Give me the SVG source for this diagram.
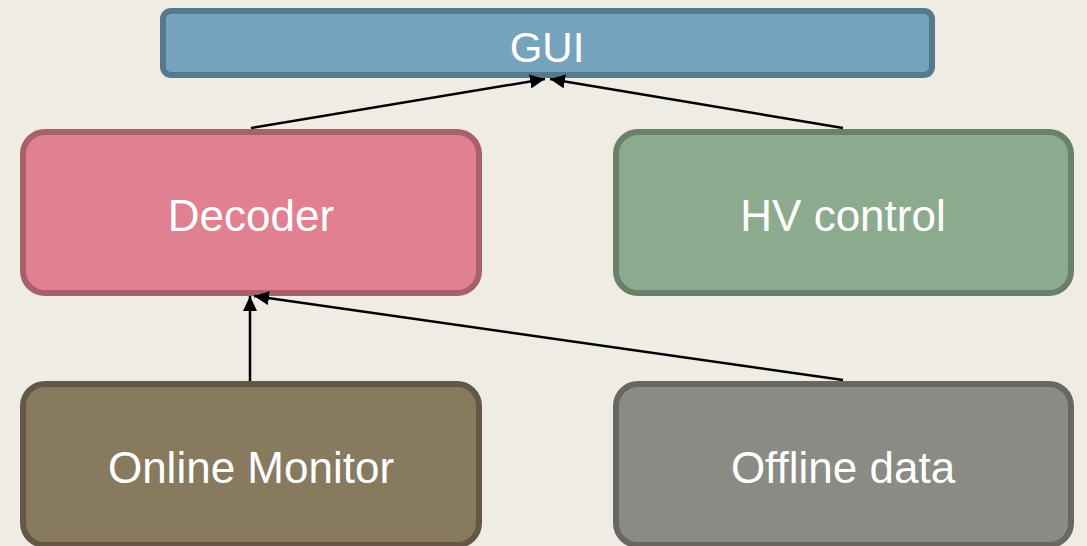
<svg xmlns="http://www.w3.org/2000/svg" width="1087" height="546" viewBox="0 0 1087 546">
<defs>
<style>
.box{stroke-width:6}
.lbl{font-family:"Liberation Sans",Arial,sans-serif;font-size:44px;fill:#ffffff;text-anchor:middle}
.edge{stroke:#000;stroke-width:2.5;fill:none;marker-end:url(#arr)}
</style>
<marker id="arr" markerUnits="userSpaceOnUse" markerWidth="16" markerHeight="14" refX="15" refY="7" orient="auto">
<path d="M0,0 L15,7 L0,14 Z" fill="#000"/>
</marker>
</defs>
<rect width="1087" height="546" fill="#EFECE4"/>
<g id="gui">
<rect class="box" x="163" y="11" width="769" height="64" rx="8" fill="#75A3BC" stroke="#567A8D"/>
<text class="lbl" x="547" y="62" font-size="42" style="font-size:42px">GUI</text>
</g>
<g id="decoder">
<rect class="box" x="23" y="132" width="456" height="161" rx="22" fill="#E08090" stroke="#A8616B"/>
<text class="lbl" x="251" y="231">Decoder</text>
</g>
<g id="hv">
<rect class="box" x="616" y="132" width="455" height="161" rx="22" fill="#8CAB8E" stroke="#6A8069"/>
<text class="lbl" x="843" y="231">HV control</text>
</g>
<g id="online">
<rect class="box" x="23" y="384" width="456" height="161" rx="22" fill="#877A5F" stroke="#625845"/>
<text class="lbl" x="251" y="483">Online Monitor</text>
</g>
<g id="offline">
<rect class="box" x="616" y="384" width="455" height="161" rx="22" fill="#8A8B84" stroke="#676863"/>
<text class="lbl" x="843" y="483">Offline data</text>
</g>
<g id="connectors">
<line class="edge" x1="251" y1="128" x2="545" y2="79"/>
<line class="edge" x1="843" y1="128" x2="550" y2="79"/>
<line class="edge" x1="250" y1="381" x2="250" y2="296"/>
<line class="edge" x1="843" y1="380" x2="254" y2="296"/>
</g>
</svg>
